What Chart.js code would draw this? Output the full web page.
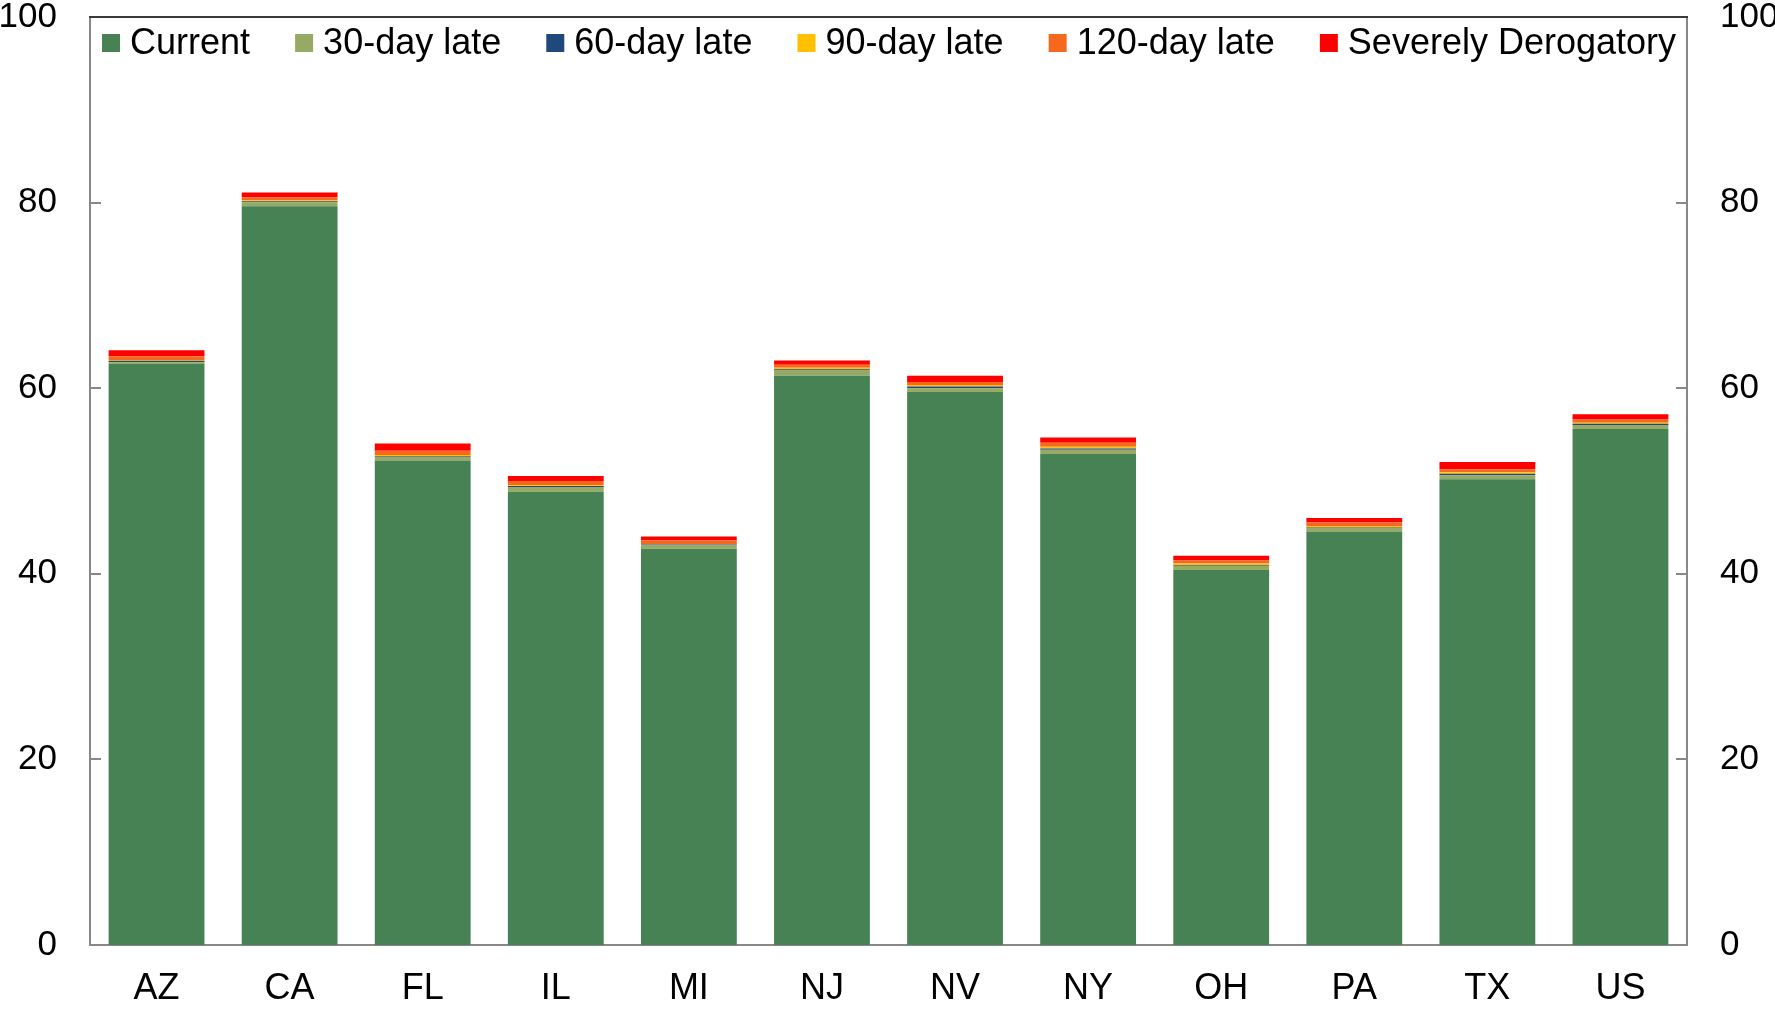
<!DOCTYPE html>
<html>
<head>
<meta charset="utf-8">
<script src="https://cdn.jsdelivr.net/npm/chart.js@4.4.1/dist/chart.umd.min.js"></script>
<style>
  body { margin: 0; background: #fff; }
  #wrap { width: 1775px; height: 1009px; }
</style>
</head>
<body>
<div id="wrap"><canvas id="stateChart"></canvas></div>
<script>
const categories = ['AZ', 'CA', 'FL', 'IL', 'MI', 'NJ', 'NV', 'NY', 'OH', 'PA', 'TX', 'US'];
const seriesNames = ['Current', '30-day late', '60-day late', '90-day late', '120-day late', 'Severely Derogatory'];
const current = [62.6, 79.6, 52.2, 48.85, 42.7, 61.35, 59.6, 52.9, 40.4, 44.5, 50.2, 55.6];
const late30 = [0.2, 0.45, 0.4, 0.5, 0.35, 0.55, 0.4, 0.46, 0.46, 0.39, 0.43, 0.43];
const late60 = [0.15, 0.1, 0.1, 0.1, 0.1, 0.15, 0.17, 0.14, 0.1, 0.1, 0.14, 0.14];
const late90 = [0.1, 0.1, 0.1, 0.1, 0.07, 0.15, 0.18, 0.2, 0.15, 0.15, 0.18, 0.1];
const late120 = [0.4, 0.3, 0.45, 0.45, 0.4, 0.32, 0.32, 0.43, 0.33, 0.39, 0.32, 0.36];
const severe = [0.65, 0.55, 0.8, 0.55, 0.4, 0.47, 0.68, 0.57, 0.5, 0.47, 0.79, 0.57];
const yTicks = [0, 20, 40, 60, 80, 100];

const colors = ['#468254', '#97AA64', '#1F497D', '#FFC000', '#F7681F', '#FF0000'];
const seriesValues = [current, late30, late60, late90, late120, severe];
const FONT = 'Liberation Sans, Arial, sans-serif';

// legend drawn inside the plot area, plus inward tick marks and top frame line
const framePlugin = {
    id: 'framePlugin',
    afterDraw(chart) {
        const ctx = chart.ctx;
        const area = chart.chartArea;
        const y = chart.scales.y;
        ctx.save();
        ctx.strokeStyle = '#888888';
        ctx.lineWidth = 2;
        yTicks.forEach(v => {
            const py = Math.round(y.getPixelForValue(v));
            ctx.beginPath();
            ctx.moveTo(area.left, py);
            ctx.lineTo(area.left + 11, py);
            ctx.moveTo(area.right - 11, py);
            ctx.lineTo(area.right, py);
            ctx.stroke();
        });
        ctx.strokeStyle = '#3a3a3a';
        ctx.beginPath();
        ctx.moveTo(area.left - 1, area.top);
        ctx.lineTo(area.right + 1, area.top);
        ctx.stroke();

        // legend
        ctx.font = '36px ' + FONT;
        ctx.textBaseline = 'middle';
        ctx.fillStyle = '#000';
        const box = 18, gap = 10;
        const x0 = 102, x1 = 1676, cy = 43;
        const widths = seriesNames.map(n => box + gap + ctx.measureText(n).width);
        const total = widths.reduce((a, b) => a + b, 0);
        const spacing = (x1 - x0 - total) / (seriesNames.length - 1);
        let x = x0;
        seriesNames.forEach((n, i) => {
            ctx.fillStyle = colors[i];
            ctx.fillRect(x, cy - box / 2, box, box);
            ctx.fillStyle = '#000';
            ctx.fillText(n, x + box + gap, cy + 1);
            x += widths[i] + spacing;
        });
        ctx.restore();
    }
};

const datasets = seriesNames.map((name, i) => ({
    label: name,
    data: seriesValues[i],
    backgroundColor: colors[i],
    borderWidth: 0,
    barPercentage: 0.72,
    categoryPercentage: 1.0,
    yAxisID: 'y'
}));

function fixY(width) {
    return function (scale) {
        scale.width = width;
        scale.paddingTop = 0;
        scale.paddingBottom = 0;
    };
}

const ctx = document.getElementById('stateChart').getContext('2d');
new Chart(ctx, {
    type: 'bar',
    data: { labels: categories, datasets: datasets },
    plugins: [framePlugin],
    options: {
        responsive: true,
        maintainAspectRatio: false,
        animation: false,
        layout: { padding: { top: 17, left: 0, right: 0, bottom: 0 } },
        plugins: {
            legend: { display: false },
            tooltip: { enabled: false }
        },
        scales: {
            x: {
                stacked: true,
                grid: { display: false, drawTicks: false },
                border: { display: true, color: '#888888', width: 2 },
                ticks: { color: '#000', font: { family: FONT, size: 36 }, padding: 22 },
                afterFit(scale) {
                    scale.height = 64;
                    scale.paddingLeft = 0;
                    scale.paddingRight = 0;
                }
            },
            y: {
                stacked: true,
                position: 'left',
                min: 0,
                max: 100,
                grid: { display: false, drawTicks: false },
                border: { display: true, color: '#888888', width: 2 },
                ticks: { stepSize: 20, color: '#000', font: { family: FONT, size: 35 }, padding: 33 },
                afterFit: fixY(90)
            },
            y2: {
                position: 'right',
                min: 0,
                max: 100,
                grid: { display: false, drawTicks: false },
                border: { display: true, color: '#888888', width: 2 },
                ticks: { stepSize: 20, color: '#000', font: { family: FONT, size: 35 }, padding: 33 },
                afterFit: fixY(88)
            }
        }
    }
});
</script>
</body>
</html>
